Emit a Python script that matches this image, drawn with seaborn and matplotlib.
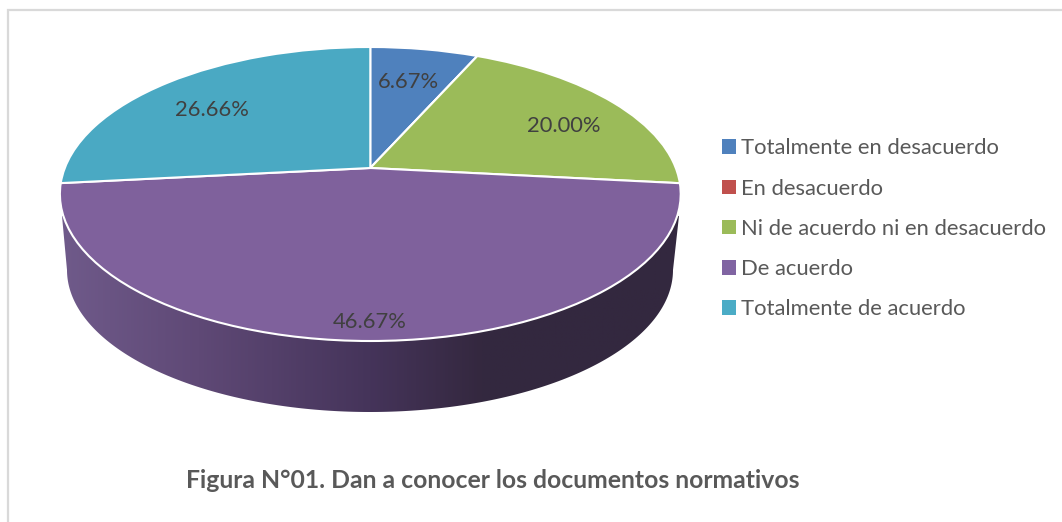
import numpy as np
import matplotlib
matplotlib.use('Agg')
import matplotlib.pyplot as plt
import seaborn as sns
from matplotlib.colors import LinearSegmentedColormap
from matplotlib.patches import Patch, Polygon
from matplotlib.transforms import Transform

categories = ['Totalmente en desacuerdo', 'En desacuerdo', 'Ni de acuerdo ni en desacuerdo',
              'De acuerdo', 'Totalmente de acuerdo']
values = [6.67, 0, 20.00, 46.67, 26.66]
colors = ['#4f81bd', '#c0504d', '#9bbb59', '#7f619c', '#4aa9c3']
label_xy = [(408.5, 82), None, (563.5, 125.5), (369.5, 321.5), (212, 109.5)]

sns.set_theme(style='white')
plt.rcParams['font.family'] = ['Lato', 'DejaVu Sans']


# tilts the flat pie so that the near side is bigger, as in the 3D look of the original
class Tilt(Transform):
    input_dims = 2
    output_dims = 2

    def transform_non_affine(self, values):
        pts = np.asarray(values, dtype=float)
        w = 1 + 0.1769 * pts[:, 1]
        return np.column_stack([370.3 + 305.5 * pts[:, 0] / w, 168 - 142.4 * pts[:, 1] / w])


fig = plt.figure(figsize=(10.62, 5.22), dpi=100)
ax = fig.add_axes([0, 0, 1, 1])

wedges, texts, autotexts = ax.pie(values, colors=sns.color_palette(colors), startangle=90, counterclock=False,
                                  autopct=lambda p: '%.2f%%' % p if p > 0 else '',
                                  wedgeprops={'edgecolor': 'white', 'linewidth': 1.5},
                                  textprops={'fontsize': 15.8, 'color': '#404040'})
tilt = Tilt()
for w in wedges:
    w.set_transform(tilt + ax.transData)
    w.set_zorder(3)
for t, xy in zip(autotexts, label_xy):
    if xy is None:
        t.set_visible(False)
        continue
    t.set_position(xy)
    t.set_zorder(5)

ax.set_aspect('auto')

# side wall of the disc with its left to right shading
ang = np.linspace(np.pi, 2 * np.pi, 200)
wall_x = 370 + 303 * np.cos(ang)
wall_y = 270 - 142 * np.sin(ang)
wall = np.vstack([[[62, 216]], np.column_stack([wall_x, wall_y]), [[679, 216]], [[370, 168]]])
shade = LinearSegmentedColormap.from_list('shade', [(0, '#6f5a8a'), (0.22, '#5f4976'), (0.5, '#45345a'),
                                                    (0.68, '#34283f'), (1, '#33283f')])
img = ax.imshow(np.linspace(0, 1, 512).reshape(1, -1), cmap=shade, extent=(62, 679, 412, 168), aspect='auto', zorder=2)
img.set_clip_path(Polygon(wall, transform=ax.transData))

ax.set_xlim(0, 1062)
ax.set_ylim(522, 0)
ax.axis('off')

# chart border, only left and top are inside the crop
ax.plot([8, 8, 1062], [522, 10, 10], color='#d9d9d9', lw=1.6, zorder=1, solid_joinstyle='miter')

handles = [Patch(facecolor=c, edgecolor='none') for c in ['#4f81bd', '#c0504d', '#9bbb59', '#8064a2', '#4bacc6']]
ax.legend(handles, categories, loc='upper left', bbox_to_anchor=(702, 118.5), bbox_transform=ax.transData,
          frameon=False, fontsize=15.85, labelcolor='#595959', handlelength=0.63, handleheight=0.63,
          handletextpad=0.25, labelspacing=0.92)

ax.text(493, 481, 'Figura N°01. Dan a conocer los documentos normativos', ha='center', va='center',
        fontsize=17.8, fontweight='bold', color='#595959')

fig.savefig('out.png', dpi=100)
